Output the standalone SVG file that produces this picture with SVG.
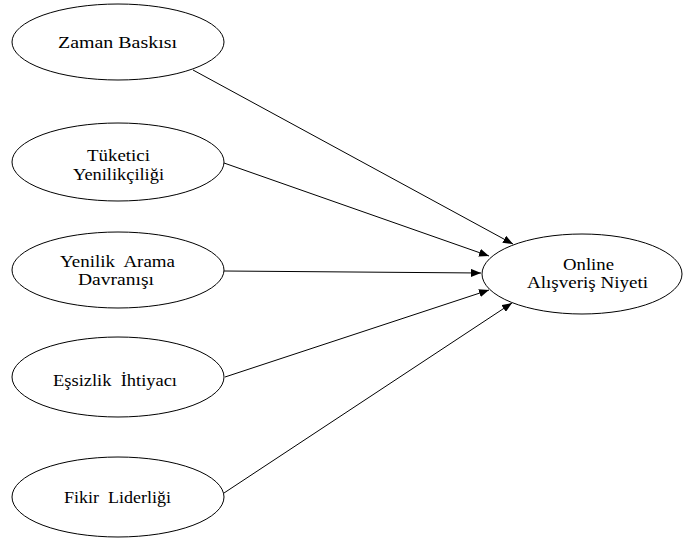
<svg xmlns="http://www.w3.org/2000/svg" width="683" height="539" viewBox="0 0 683 539">
<style>
.n ellipse{fill:#fff;stroke:#000;stroke-width:1}
.n text{font-family:"Liberation Serif","Times New Roman",serif;font-size:16px;fill:#000;text-anchor:middle}
.c line{stroke:#000;stroke-width:1;marker-end:url(#ah)}
</style>
<defs>
<marker id="ah" viewBox="0 0 10 8" refX="10" refY="4" markerWidth="10" markerHeight="8" markerUnits="userSpaceOnUse" orient="auto">
<path d="M0,0 L10,4 L0,8 z" fill="#000"/>
</marker>
</defs>
<rect width="683" height="539" fill="#fff"/>
<g class="c">
<line x1="193" y1="70" x2="513" y2="244"/>
<line x1="224" y1="163" x2="489" y2="256"/>
<line x1="224" y1="271" x2="481" y2="273"/>
<line x1="225" y1="377" x2="489" y2="290"/>
<line x1="224" y1="493" x2="512" y2="303"/>
</g>
<g class="n" id="n1">
<ellipse cx="118" cy="42" rx="106" ry="38"/>
<text x="117.5" y="48" textLength="119" lengthAdjust="spacingAndGlyphs">Zaman Baskısı</text>
</g>
<g class="n" id="n2">
<ellipse cx="118" cy="162" rx="106" ry="39"/>
<text x="118.5" y="161" textLength="63" lengthAdjust="spacingAndGlyphs">Tüketici</text>
<text x="118.5" y="180" textLength="91" lengthAdjust="spacingAndGlyphs">Yenilikçiliği</text>
</g>
<g class="n" id="n3">
<ellipse cx="118" cy="270" rx="106" ry="38"/>
<text x="117.5" y="266.5" textLength="115" lengthAdjust="spacingAndGlyphs" xml:space="preserve">Yenilik  Arama</text>
<text x="116" y="285" textLength="76" lengthAdjust="spacingAndGlyphs">Davranışı</text>
</g>
<g class="n" id="n4">
<ellipse cx="118" cy="377" rx="106" ry="40"/>
<text x="115" y="386" textLength="124" lengthAdjust="spacingAndGlyphs" xml:space="preserve">Eşsizlik  İhtiyacı</text>
</g>
<g class="n" id="n5">
<ellipse cx="118" cy="497" rx="106" ry="40"/>
<text x="117.5" y="503" textLength="107" lengthAdjust="spacingAndGlyphs" xml:space="preserve">Fikir  Liderliği</text>
</g>
<g class="n" id="n6">
<ellipse cx="582" cy="274" rx="100" ry="40"/>
<text x="588.5" y="269.5" textLength="51" lengthAdjust="spacingAndGlyphs">Online</text>
<text x="587.5" y="288" textLength="121" lengthAdjust="spacingAndGlyphs">Alışveriş Niyeti</text>
</g>
</svg>
